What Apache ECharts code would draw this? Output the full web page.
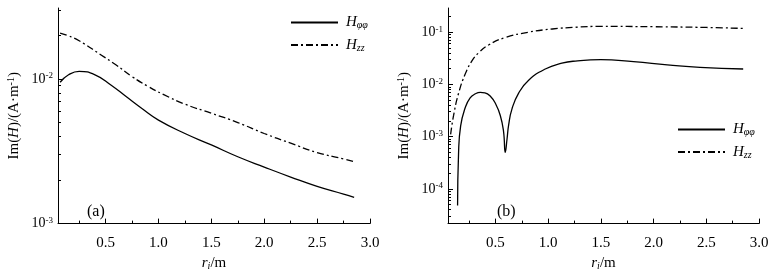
<!DOCTYPE html>
<html>
<head>
<meta charset="utf-8">
<script src="https://cdn.jsdelivr.net/npm/echarts@6/dist/echarts.min.js"></script>
<style>
  html, body { margin: 0; padding: 0; background: #fff; }
  #view { width: 774px; height: 276px; }
</style>
</head>
<body>
<div id="view"></div>
<script>
// panel (a)
let rA_pp = [0.07, 0.15, 0.25, 0.4, 0.55, 0.7, 0.85, 1.0, 1.25, 1.5, 1.75, 2.0, 2.25, 2.5, 2.75, 2.85];
let hA_pp = [0.0095, 0.0107, 0.0113, 0.0107, 0.0091, 0.0075, 0.0062, 0.0052, 0.0042, 0.0035, 0.0029, 0.00246, 0.0021, 0.00181, 0.0016, 0.00152];
let rA_zz = [0.07, 0.15, 0.25, 0.45, 0.6, 0.75, 0.9, 1.05, 1.25, 1.5, 1.75, 2.0, 2.25, 2.5, 2.75, 2.85];
let hA_zz = [0.0208, 0.0199, 0.0184, 0.0148, 0.0125, 0.0104, 0.0089, 0.0078, 0.0067, 0.0058, 0.005, 0.0042, 0.0036, 0.0031, 0.0028, 0.00268];
// panel (b)
let rB_pp = [0.141, 0.15, 0.17, 0.214, 0.26, 0.31, 0.356, 0.4, 0.45, 0.5, 0.546, 0.577, 0.593, 0.61, 0.625, 0.657, 0.72, 0.815, 0.973, 1.13, 1.258, 1.5, 1.81, 2.13, 2.44, 2.85];
let hB_pp = [4.8e-5, 4.7e-4, 0.0016, 0.0036, 0.0055, 0.0066, 0.00703, 0.0069, 0.006, 0.0043, 0.00254, 0.00125, 0.0005, 0.0009, 0.00166, 0.0034, 0.0068, 0.012, 0.0197, 0.0254, 0.028, 0.0298, 0.0272, 0.0237, 0.0211, 0.0197];
let rB_zz = [0.075, 0.103, 0.151, 0.214, 0.277, 0.339, 0.435, 0.593, 0.815, 1.04, 1.258, 1.5, 2.0, 2.5, 2.85];
let hB_zz = [0.0011, 0.00254, 0.00683, 0.0159, 0.0281, 0.0399, 0.0569, 0.0787, 0.1, 0.115, 0.124, 0.129, 0.127, 0.123, 0.118];

let xLabels = [0.5, 1.0, 1.5, 2.0, 2.5, 3.0];
let xMinor = [0.25, 0.75, 1.25, 1.75, 2.25, 2.75];
let yLabelsA = [0.001, 0.01];
let yLabelsB = [0.0001, 0.001, 0.01, 0.1];

const FONT = "Liberation Serif";
const BLACK = "#000";

function minorLog(from, to) {
  let list = [];
  for (let e = from; e <= to; e++) {
    for (let k = 2; k <= 9; k++) list.push(k * Math.pow(10, e));
  }
  return list;
}

function pairs(xs, ys) {
  return xs.map((x, i) => [x, ys[i]]);
}

let supRich = {
  b: { fontFamily: FONT, fontSize: 14, color: BLACK, lineHeight: 15 },
  s: { fontFamily: FONT, fontSize: 9, color: BLACK, verticalAlign: "top", lineHeight: 9 },
};
let nameRich = {
  n: { fontFamily: FONT, fontSize: 15, color: BLACK, lineHeight: 16 },
  i: { fontFamily: FONT, fontSize: 15, color: BLACK, fontStyle: "italic", lineHeight: 16 },
  s: { fontFamily: FONT, fontSize: 10, color: BLACK, verticalAlign: "top", lineHeight: 10 },
  sub: { fontFamily: FONT, fontSize: 10, color: BLACK, fontStyle: "italic", verticalAlign: "bottom", lineHeight: 10 },
};
let legendRich = {
  h: { fontFamily: FONT, fontSize: 15, color: BLACK, fontStyle: "italic", lineHeight: 16 },
  s: { fontFamily: FONT, fontSize: 10, color: BLACK, fontStyle: "italic", verticalAlign: "bottom", lineHeight: 10 },
};

function xAxes(gridIndex) {
  let line = { lineStyle: { color: BLACK, width: 1 } };
  return [
    {
      gridIndex: gridIndex,
      type: "value",
      min: 0.05,
      max: 3.0,
      axisLine: line,
      splitLine: { show: false },
      axisTick: { inside: true, length: 5, lineStyle: { color: BLACK }, customValues: xLabels },
      axisLabel: {
        customValues: xLabels,
        margin: 12,
        fontFamily: FONT,
        fontSize: 15,
        color: BLACK,
        formatter: (v) => v.toFixed(1),
      },
      name: "{i|r}{sub|i}{n|/m}",
      nameLocation: "middle",
      nameGap: 31,
      nameTextStyle: { rich: nameRich },
    },
    {
      gridIndex: gridIndex,
      type: "value",
      position: "bottom",
      min: 0.05,
      max: 3.0,
      axisLine: { show: false },
      splitLine: { show: false },
      axisTick: { inside: true, length: 3, lineStyle: { color: BLACK }, customValues: xMinor },
      axisLabel: { show: false },
    },
  ];
}

function yAxes(gridIndex, min, max, labels, minorFrom, minorTo) {
  return [
    {
      gridIndex: gridIndex,
      type: "log",
      min: min,
      max: max,
      axisLine: { show: true, lineStyle: { color: BLACK, width: 1 } },
      splitLine: { show: false },
      axisTick: { inside: true, length: 5, lineStyle: { color: BLACK }, customValues: labels },
      axisLabel: {
        customValues: labels,
        margin: 5,
        formatter: (v) => "{b|10}{s|" + Math.round(Math.log10(v)) + "}",
        rich: supRich,
      },
      name: "{n|Im(}{i|H}{n|)/(A·m}{s|-1}{n|)}",
      nameLocation: "middle",
      nameGap: 36,
      nameTextStyle: { rich: nameRich },
    },
    {
      gridIndex: gridIndex,
      type: "log",
      position: "left",
      min: min,
      max: max,
      axisLine: { show: false },
      splitLine: { show: false },
      axisTick: { inside: true, length: 3, lineStyle: { color: BLACK }, customValues: minorLog(minorFrom, minorTo) },
      axisLabel: { show: false },
    },
  ];
}

function legend(left, top) {
  return {
    left: left,
    top: top,
    padding: 0,
    orient: "vertical",
    itemWidth: 47,
    itemHeight: 14,
    itemGap: 7,
    data: ["Hφφ", "Hzz"],
    itemStyle: { opacity: 0 },
    formatter: (name) => "{h|H}{s|" + name.slice(1) + "}",
    textStyle: { rich: legendRich, padding: [0, 0, 0, 3] },
  };
}

function lineSeries(name, x, y, data, dashed) {
  return {
    name: name,
    type: "line",
    xAxisIndex: x,
    yAxisIndex: y,
    data: data,
    symbol: "none",
    smooth: 0.5,
    lineStyle: { color: BLACK, width: 1.3, type: dashed ? [7, 3, 2, 3] : "solid" },
    itemStyle: { color: BLACK },
  };
}

let myChart = echarts.init(document.getElementById("view"), null, { renderer: "canvas" });

let option = {
  backgroundColor: "#fff",
  animation: false,
  textStyle: { fontFamily: FONT },
  title: [
    { text: "(a)", left: 82, top: 199, textStyle: { fontFamily: FONT, fontSize: 16, fontWeight: "normal", color: BLACK } },
    { text: "(b)", left: 492, top: 199, textStyle: { fontFamily: FONT, fontSize: 16, fontWeight: "normal", color: BLACK } },
  ],
  grid: [
    { left: 58, top: 8, width: 312, height: 225 },
    { left: 448, top: 8, width: 311, height: 225 },
  ],
  legend: [legend(290, 15), legend(677, 122)],
  xAxis: [...xAxes(0), ...xAxes(1)],
  yAxis: [...yAxes(0, 0.001, 0.031, yLabelsA, -3, -2), ...yAxes(1, 2.16e-5, 0.29, yLabelsB, -5, -1)],
  series: [
    lineSeries("Hφφ", 0, 0, pairs(rA_pp, hA_pp), false),
    lineSeries("Hzz", 0, 0, pairs(rA_zz, hA_zz), true),
    lineSeries("Hφφ", 2, 2, pairs(rB_pp, hB_pp), false),
    lineSeries("Hzz", 2, 2, pairs(rB_zz, hB_zz), true),
  ],
};
myChart.setOption(option);
</script>
</body>
</html>
